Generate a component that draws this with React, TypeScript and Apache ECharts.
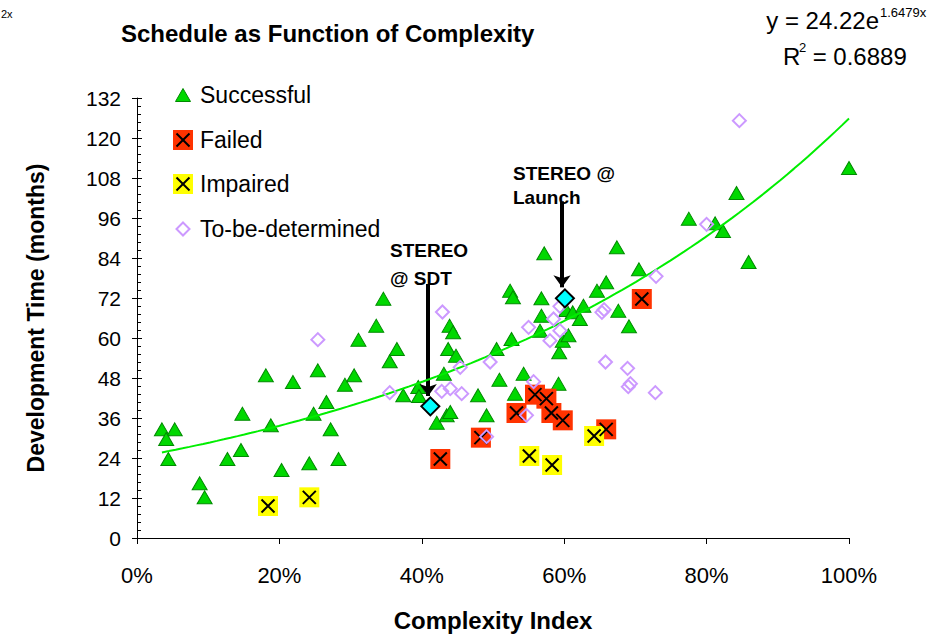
import React, { useEffect, useRef } from "react";
import * as echarts from "echarts";

const FONT = "'Liberation Sans', Arial, sans-serif";

// Complexity index (fraction) , development time (months)
const successful: [number, number][] = [
  [0.035, 32.6], [0.053, 32.6], [0.041, 29.7], [0.044, 23.7], [0.088, 16.4],
  [0.095, 12.2], [0.127, 23.7], [0.146, 26.4], [0.148, 37.3], [0.181, 48.8],
  [0.188, 33.8], [0.203, 20.4], [0.219, 46.8], [0.242, 22.4], [0.248, 37.3],
  [0.254, 50.3], [0.266, 40.8], [0.272, 32.6], [0.283, 23.7], [0.292, 46.0],
  [0.305, 48.8], [0.311, 59.5], [0.336, 63.7], [0.346, 71.8], [0.355, 53.0],
  [0.365, 56.7], [0.374, 42.8], [0.395, 45.3], [0.396, 42.6], [0.421, 34.6],
  [0.431, 49.3], [0.435, 36.8], [0.440, 37.8], [0.437, 56.7], [0.439, 63.7],
  [0.444, 61.7], [0.448, 54.7], [0.479, 42.8], [0.491, 36.8], [0.505, 56.7],
  [0.509, 47.5], [0.524, 74.2], [0.528, 72.2], [0.526, 59.7], [0.531, 43.3],
  [0.543, 49.3], [0.568, 71.9], [0.568, 66.7], [0.566, 62.2], [0.572, 85.4],
  [0.592, 46.3], [0.593, 55.7], [0.598, 59.2], [0.606, 60.8], [0.603, 68.4],
  [0.612, 67.7], [0.622, 65.7], [0.627, 69.7], [0.646, 74.2], [0.659, 76.7],
  [0.674, 87.2], [0.676, 68.2], [0.691, 63.5], [0.705, 80.6], [0.775, 95.8],
  [0.812, 94.4], [0.823, 92.1], [0.842, 103.5], [0.859, 82.8], [1.0, 111.0],
];
const failed: [number, number][] = [
  [0.426, 23.7], [0.483, 30.1], [0.533, 37.5], [0.559, 43.0], [0.575, 41.8],
  [0.582, 37.5], [0.598, 35.3], [0.659, 32.6], [0.709, 71.7],
];
const impaired: [number, number][] = [
  [0.184, 9.6], [0.242, 12.2], [0.551, 24.6], [0.583, 21.9], [0.642, 30.6],
];
const tbd: [number, number][] = [
  [0.254, 59.5], [0.355, 43.6], [0.429, 67.8], [0.428, 44.0], [0.440, 44.8],
  [0.456, 43.3], [0.454, 51.2], [0.496, 52.8], [0.491, 30.4], [0.547, 36.8],
  [0.557, 46.9], [0.550, 63.2], [0.580, 59.2], [0.585, 65.7], [0.594, 62.2],
  [0.594, 69.5], [0.653, 67.7], [0.656, 68.5], [0.658, 52.8], [0.689, 50.9],
  [0.693, 46.3], [0.690, 45.4], [0.728, 43.6], [0.729, 78.5], [0.800, 94.1],
  [0.846, 125.2],
];
const stereo: [number, number][] = [[0.412, 39.5], [0.601, 71.9]];
const stereoArrows: [number, number, number][] = [
  // x, from y, to y
  [0.409, 76.2, 42.6],
  [0.597, 101.0, 75.2],
];

// Exponential trendline as printed on the chart: y = 24.22 e^(1.6479x)
const TREND_A = 24.22;
const TREND_B = 1.6479;
const TREND_X_START = 0.035;
const TREND_X_END = 1.0;

const Y_MIN = 0;
const Y_MAX = 132;
const Y_STEP = 12;
const X_MIN = 0;
const X_MAX = 1;
const X_STEP = 0.2;

const X_PATH = "path://M0,0L10,10M10,0L0,10";

export default function App() {
  const ref = useRef<HTMLDivElement>(null);
  useEffect(() => {
    if (!ref.current) return;
    const chart = echarts.init(ref.current, undefined, { renderer: "svg" });

    const trend: [number, number][] = [];
    for (let i = 0; i <= 100; i++) {
      const x = TREND_X_START + ((TREND_X_END - TREND_X_START) * i) / 100;
      trend.push([x, TREND_A * Math.exp(TREND_B * x)]);
    }

    const crossSeries = (name: string, data: [number, number][], fill: string) => [
      {
        name,
        type: "scatter",
        data,
        symbol: "rect",
        symbolSize: 20,
        itemStyle: { color: fill, borderColor: fill, borderWidth: 0, opacity: 1 },
        z: 3,
      },
      {
        name: name + "-x",
        type: "scatter",
        data,
        symbol: X_PATH,
        symbolSize: 13,
        itemStyle: { color: "none", borderColor: "#000", borderWidth: 2, opacity: 1 },
        z: 4,
      },
    ];

    const txt = (x: number, y: number, text: string, size: number, opts: any = {}) => ({
      type: "text",
      x,
      y,
      style: {
        text,
        fontFamily: FONT,
        fontSize: size,
        fill: "#000",
        textVerticalAlign: "middle",
        ...opts,
      },
    });

    const legendY = [95, 140, 184, 229];
    const legendX = 183;

    chart.setOption({
      animation: false,
      backgroundColor: "#fff",
      grid: { left: 137, right: 99, top: 98, bottom: 97 },
      xAxis: {
        type: "value",
        min: X_MIN,
        max: X_MAX,
        interval: X_STEP,
        name: "Complexity Index",
        nameLocation: "middle",
        nameGap: 70,
        nameTextStyle: { fontFamily: FONT, fontSize: 24, fontWeight: "bold", color: "#000" },
        axisLine: { show: true, lineStyle: { color: "#000", width: 1 } },
        axisTick: { show: true, length: 6, lineStyle: { color: "#000" } },
        axisLabel: {
          margin: 26,
          fontFamily: FONT,
          fontSize: 22,
          color: "#000",
          formatter: (v: number) => Math.round(v * 100) + "%",
        },
        splitLine: { show: false },
      },
      yAxis: [
        {
          type: "value",
          min: Y_MIN,
          max: Y_MAX,
          interval: Y_STEP,
          name: "Development Time (months)",
          nameLocation: "middle",
          nameGap: 90,
          nameTextStyle: { fontFamily: FONT, fontSize: 23, fontWeight: "bold", color: "#000" },
          axisLine: { show: true, lineStyle: { color: "#000", width: 1 } },
          axisTick: { show: true, length: 5, lineStyle: { color: "#000" } },
          axisLabel: { margin: 16, fontFamily: FONT, fontSize: 21, color: "#000" },
          splitLine: { show: false },
        },
        {
          type: "value",
          position: "left",
          min: Y_MIN,
          max: Y_MAX,
          interval: Y_STEP,
          axisLine: { show: false },
          axisLabel: { show: false },
          axisTick: { show: true, inside: true, length: 5, lineStyle: { color: "#000" } },
          minorTick: { show: true, splitNumber: 5, length: 4, lineStyle: { color: "#000" } },
          splitLine: { show: false },
        },
      ],
      series: [
        {
          name: "Successful",
          type: "scatter",
          data: successful,
          symbol: "triangle",
          symbolSize: [15, 13],
          itemStyle: { color: "#00d800", borderColor: "#008a00", borderWidth: 1, opacity: 1 },
          z: 2,
        },
        ...crossSeries("Failed", failed, "#ff3300"),
        ...crossSeries("Impaired", impaired, "#ffff00"),
        {
          name: "Trend",
          type: "line",
          data: trend,
          showSymbol: false,
          symbol: "none",
          lineStyle: { color: "#00ee00", width: 2 },
          z: 5,
        },
        {
          name: "To-be-determined",
          type: "scatter",
          data: tbd,
          symbol: "diamond",
          symbolSize: 13,
          itemStyle: { color: "none", borderColor: "#cc99ff", borderWidth: 2, opacity: 1 },
          z: 6,
        },
        {
          name: "STEREO",
          type: "scatter",
          data: stereo,
          symbol: "diamond",
          symbolSize: 18,
          itemStyle: { color: "#00ffff", borderColor: "#000", borderWidth: 2, opacity: 1 },
          z: 8,
          markLine: {
            silent: true,
            symbol: ["none", "arrow"],
            symbolSize: [13, 12],
            label: { show: false },
            lineStyle: { color: "#000", width: 4, type: "solid" },
            data: stereoArrows.map(([x, y1, y2]) => [
              { coord: [x, y1] },
              { coord: [x, y2] },
            ]),
          },
        },
      ],
      graphic: [
        txt(1, 14, "2x", 11),
        txt(121, 33, "Schedule as Function of Complexity", 24, { fontWeight: "bold" }),
        txt(879, 20, "y = 24.22e", 24, { textAlign: "right" }),
        txt(880, 12, "1.6479x", 13),
        txt(783, 56, "R", 24),
        txt(799, 47, "2", 13),
        txt(806, 56, " = 0.6889", 24),
        txt(390, 250, "STEREO", 19, { fontWeight: "bold" }),
        txt(390, 278, "@ SDT", 19, { fontWeight: "bold" }),
        txt(513, 173, "STEREO @", 19, { fontWeight: "bold" }),
        txt(513, 197, "Launch", 19, { fontWeight: "bold" }),
        // legend
        {
          type: "polygon",
          shape: { points: [[legendX - 7.5, legendY[0] + 6.5], [legendX + 7.5, legendY[0] + 6.5], [legendX, legendY[0] - 6.5]] },
          style: { fill: "#00d800", stroke: "#008a00", lineWidth: 1 },
        },
        { type: "rect", shape: { x: legendX - 10, y: legendY[1] - 10, width: 20, height: 20 }, style: { fill: "#ff3300" } },
        { type: "line", shape: { x1: legendX - 6.5, y1: legendY[1] - 6.5, x2: legendX + 6.5, y2: legendY[1] + 6.5 }, style: { stroke: "#000", lineWidth: 2 } },
        { type: "line", shape: { x1: legendX + 6.5, y1: legendY[1] - 6.5, x2: legendX - 6.5, y2: legendY[1] + 6.5 }, style: { stroke: "#000", lineWidth: 2 } },
        { type: "rect", shape: { x: legendX - 10, y: legendY[2] - 10, width: 20, height: 20 }, style: { fill: "#ffff00" } },
        { type: "line", shape: { x1: legendX - 6.5, y1: legendY[2] - 6.5, x2: legendX + 6.5, y2: legendY[2] + 6.5 }, style: { stroke: "#000", lineWidth: 2 } },
        { type: "line", shape: { x1: legendX + 6.5, y1: legendY[2] - 6.5, x2: legendX - 6.5, y2: legendY[2] + 6.5 }, style: { stroke: "#000", lineWidth: 2 } },
        {
          type: "polygon",
          shape: { points: [[legendX, legendY[3] - 6.5], [legendX + 6.5, legendY[3]], [legendX, legendY[3] + 6.5], [legendX - 6.5, legendY[3]]] },
          style: { fill: "none", stroke: "#cc99ff", lineWidth: 2 },
        },
        txt(200, legendY[0], "Successful", 23),
        txt(200, legendY[1], "Failed", 23),
        txt(200, legendY[2], "Impaired", 23),
        txt(200, legendY[3], "To-be-determined", 23),
      ],
    });
    return () => chart.dispose();
  }, []);
  return (
    <div
      ref={ref}
      style={{ position: "fixed", left: 0, top: 0, width: 948, height: 637, background: "#fff" }}
    />
  );
}
